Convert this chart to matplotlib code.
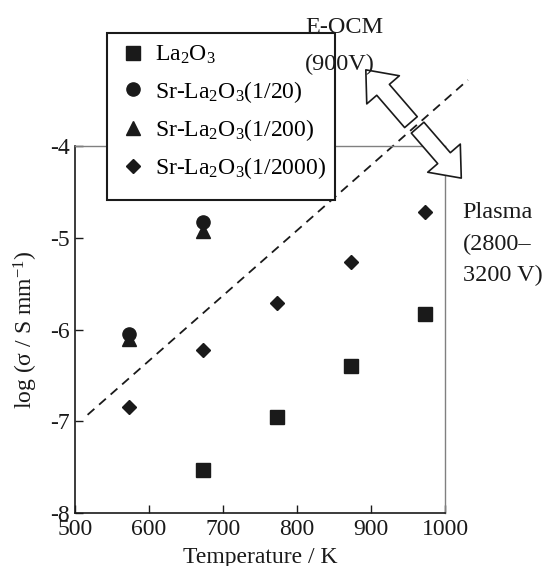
import matplotlib
matplotlib.use("Agg")
import matplotlib.pyplot as plt
from matplotlib.patches import Rectangle

plt.rcParams['font.family'] = ['Liberation Serif', 'DejaVu Serif']
plt.rcParams['mathtext.fontset'] = 'custom'
plt.rcParams['mathtext.rm'] = 'Liberation Serif'
plt.rcParams['mathtext.it'] = 'Liberation Serif:italic'
plt.rcParams['axes.unicode_minus'] = False

# ---- data ----
temps_la2o3 = [673, 773, 873, 973]
vals_la2o3 = [-7.53, -6.95, -6.40, -5.83]

temps_sr20 = [573, 673]
vals_sr20 = [-6.05, -4.83]

temps_sr200 = [573, 673]
vals_sr200 = [-6.10, -4.93]

temps_sr2000 = [573, 673, 773, 873, 973]
vals_sr2000 = [-6.85, -6.22, -5.71, -5.26, -4.72]

labels = ['La$_2$O$_3$', 'Sr-La$_2$O$_3$(1/20)', 'Sr-La$_2$O$_3$(1/200)', 'Sr-La$_2$O$_3$(1/2000)']

boundary_x = [517, 1031]
boundary_y = [-6.93, -3.28]

xticks = [500, 600, 700, 800, 900, 1000]
yticks = [-8, -7, -6, -5, -4]

eocm_lines = ['E-OCM', '(900V)']
plasma_lines = ['Plasma', '(2800–', '3200 V)']

FS = 17
INK = '#1a1a1a'
W, H = 545, 566

fig = plt.figure(figsize=(W/100, H/100), dpi=100)
ax = fig.add_axes([75/W, 1-513/H, (445-75)/W, (513-146)/H])

ax.plot(temps_la2o3, vals_la2o3, 's', color=INK, markersize=9.6, label=labels[0], zorder=3)
ax.plot(temps_sr20, vals_sr20, 'o', color=INK, markersize=9.5, label=labels[1], zorder=3)
ax.plot(temps_sr200, vals_sr200, '^', color=INK, markersize=9.5, label=labels[2], zorder=3)
ax.plot(temps_sr2000, vals_sr2000, 'D', color=INK, markersize=7.5, label=labels[3], zorder=3)

ax.plot(boundary_x, boundary_y, color=INK, lw=1.3, ls=(0, (5, 3.5)), clip_on=False, zorder=2)

ax.set_xlim(500, 1000)
ax.set_ylim(-8, -4)
ax.set_xticks(xticks)
ax.set_yticks(yticks)
ax.set_yticklabels([str(t) for t in yticks])
ax.tick_params(direction='in', length=6, width=1, labelsize=FS, colors=INK, pad=4)
for s in ['left', 'bottom']:
    ax.spines[s].set_color(INK)
    ax.spines[s].set_linewidth(1.2)
for s in ['top', 'right']:
    ax.spines[s].set_color('#808080')
    ax.spines[s].set_linewidth(1.0)

ax.set_xlabel('Temperature / K', fontsize=FS, color=INK, labelpad=5)
ax.set_ylabel('log (σ / S mm$^{-1}$)', fontsize=FS, color=INK, labelpad=7)

# arrows
arrowstyle = 'simple,tail_width=0.6,head_width=1.55,head_length=0.95'
ax.annotate('', xy=(893, -3.17), xytext=(954, -3.74), annotation_clip=False,
            arrowprops=dict(arrowstyle=arrowstyle, fc='white', ec=INK, lw=1.2,
                            mutation_scale=20, shrinkA=0, shrinkB=0), zorder=4)
ax.annotate('', xy=(1022, -4.35), xytext=(963, -3.80), annotation_clip=False,
            arrowprops=dict(arrowstyle=arrowstyle, fc='white', ec=INK, lw=1.2,
                            mutation_scale=20, shrinkA=0, shrinkB=0), zorder=4)

for line, yb in zip(eocm_lines, [-2.77, -3.17]):
    ax.text(811, yb, line, fontsize=17.5, ha='left', va='baseline',
            color=INK, clip_on=False, zorder=6)
for line, yb in zip(plasma_lines, [-4.785, -5.133, -5.471]):
    ax.text(1024, yb, line, fontsize=17.5, ha='left', va='baseline',
            color=INK, clip_on=False, zorder=6)

# legend box (white fill under legend, black edge on top)
box = (107/W, 1-200/H, (335-107)/W, (200-33)/H)
ax.add_patch(Rectangle(box[:2], box[2], box[3], transform=fig.transFigure,
                       facecolor='white', edgecolor='none', zorder=4.5, clip_on=False))
ax.add_patch(Rectangle(box[:2], box[2], box[3], transform=fig.transFigure,
                       facecolor='none', edgecolor=INK, lw=1.5, zorder=7, clip_on=False))

leg = ax.legend(loc='upper left', bbox_to_anchor=(107/W, 1-32/H), bbox_transform=fig.transFigure,
                fontsize=FS, frameon=False,
                handlelength=1.2, handletextpad=0.35, borderpad=0.5, labelspacing=0.53,
                borderaxespad=0)
leg.set_zorder(5)

fig.savefig('out.png', dpi=100)
